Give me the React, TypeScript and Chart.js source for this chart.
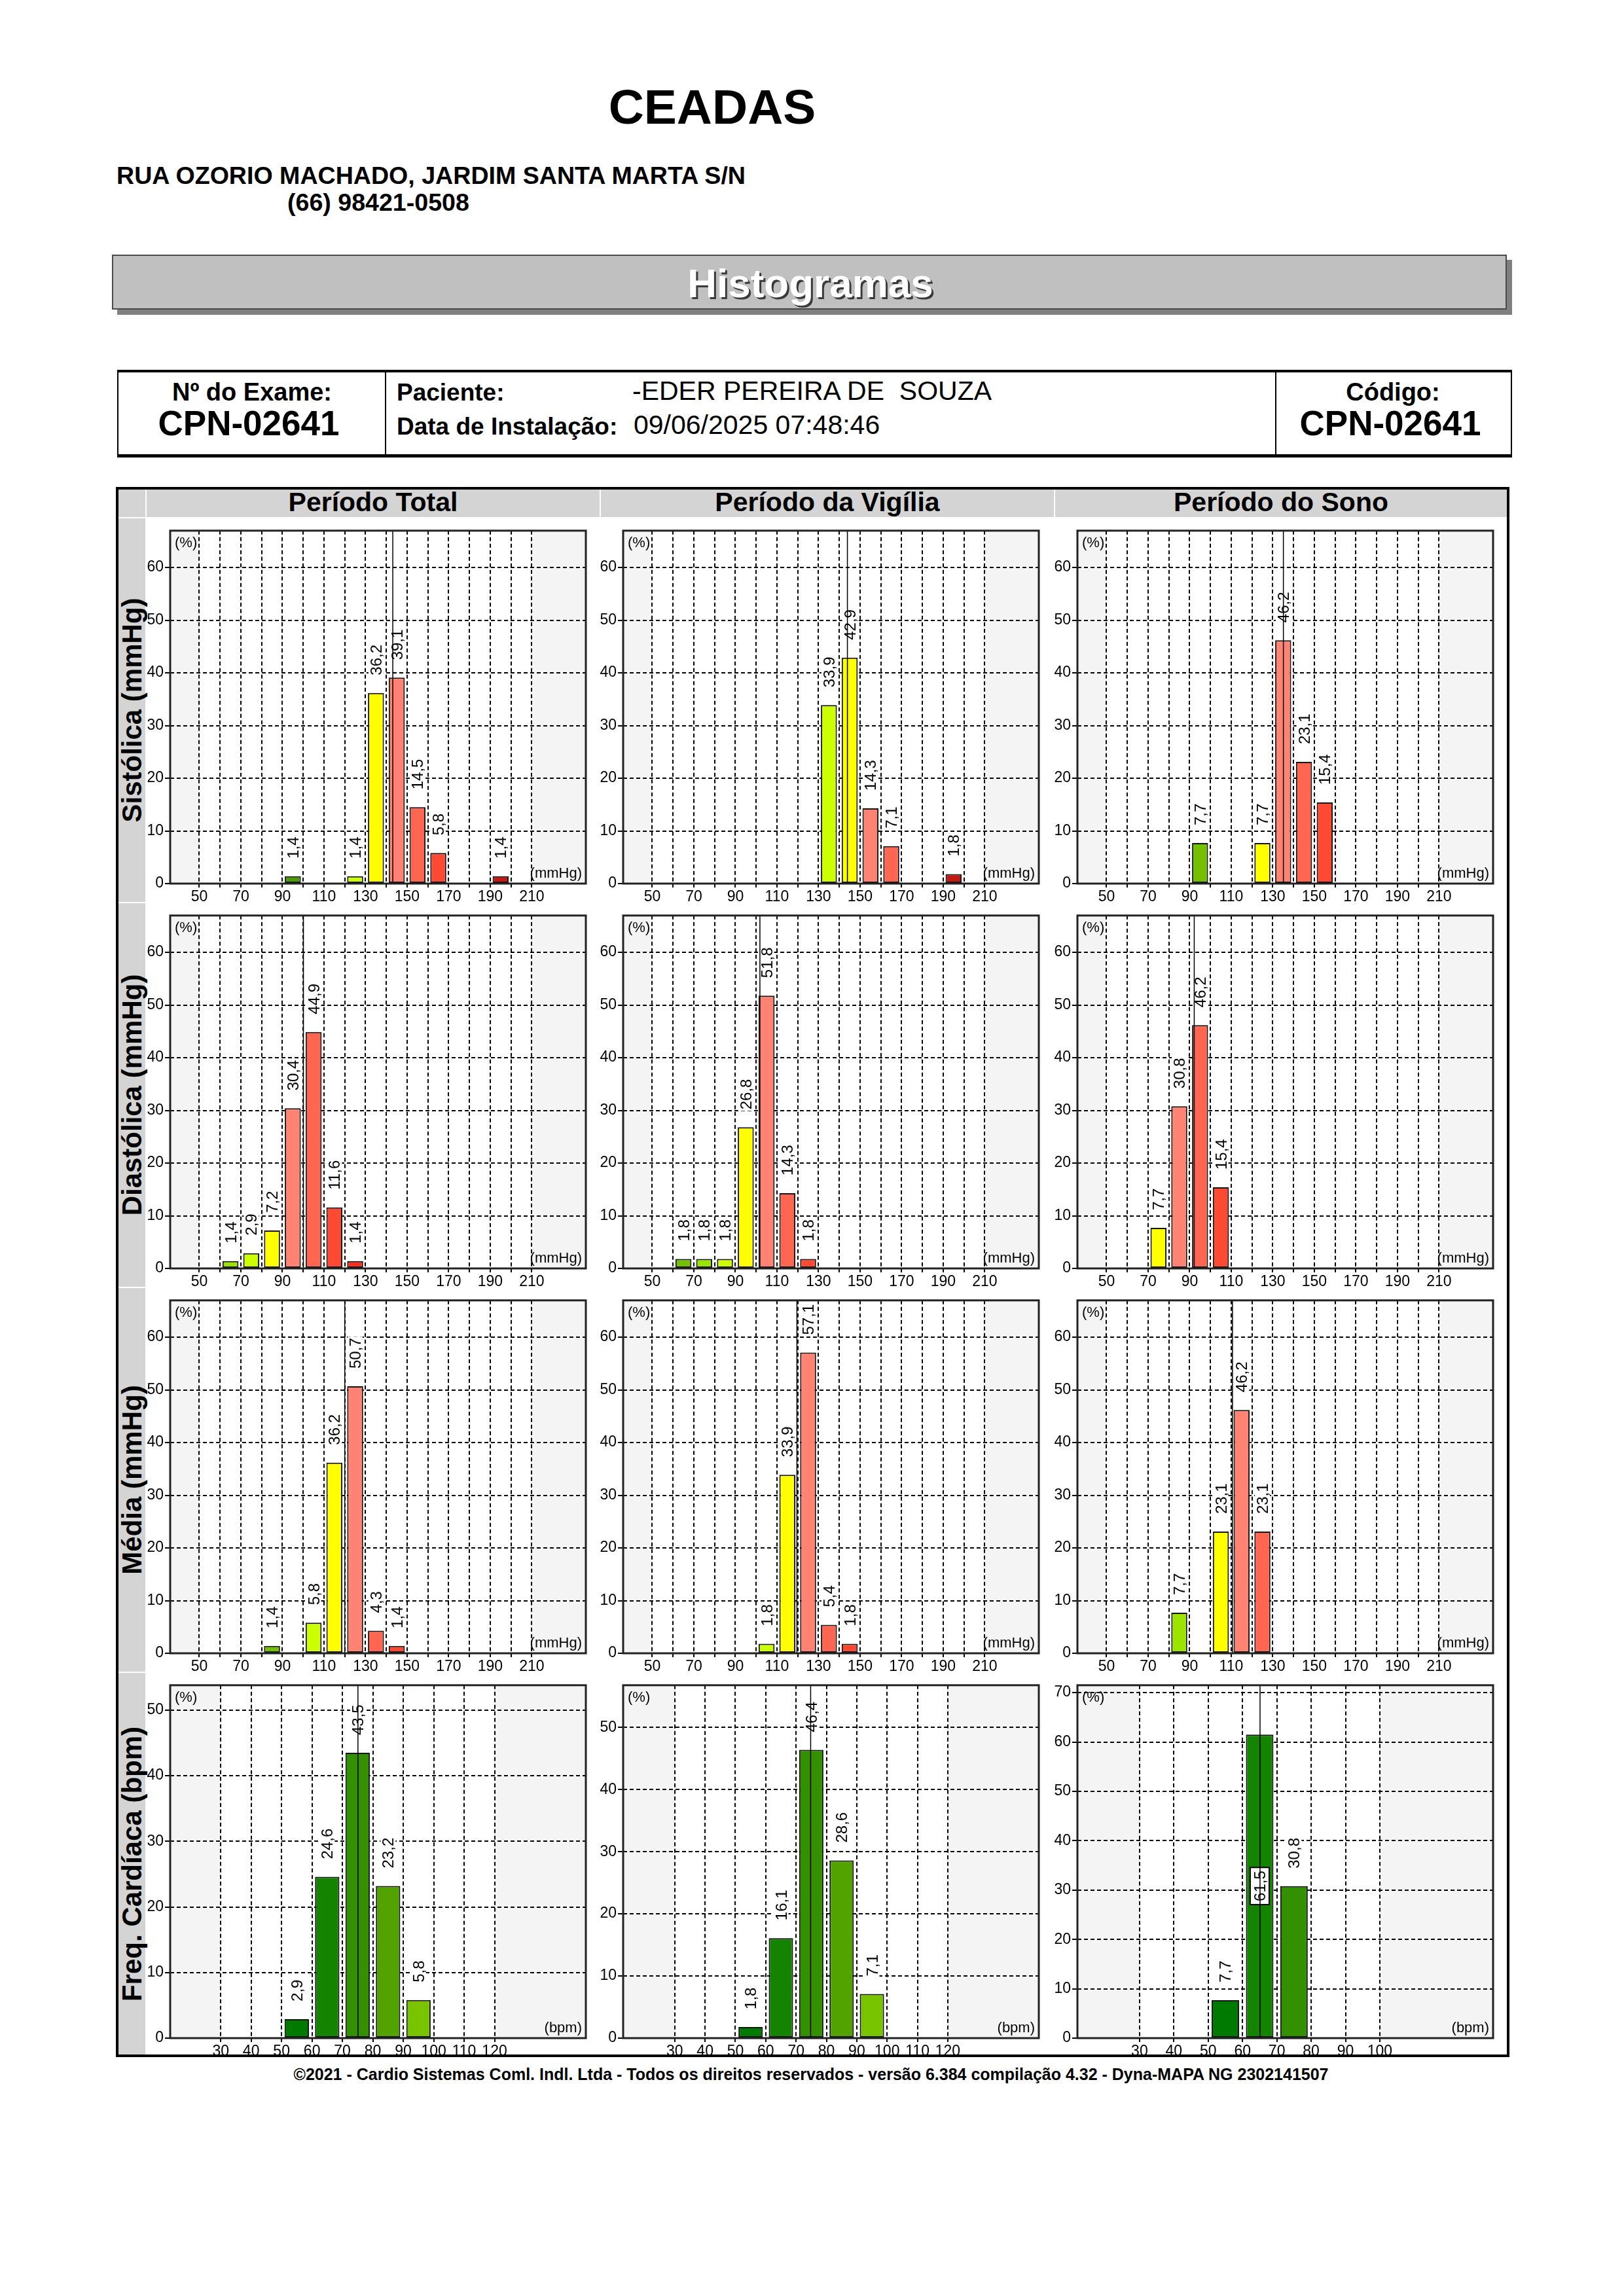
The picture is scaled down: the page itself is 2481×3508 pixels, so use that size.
import React, { useEffect, useRef } from 'react';
import { Chart, registerables } from 'chart.js';

Chart.register(...registerables);

const FONT = '"Liberation Sans", Arial, Helvetica, sans-serif';

// ---------------- DATA ----------------
const BP_BINS = [50, 60, 70, 80, 90, 100, 110, 120, 130, 140, 150, 160, 170, 180, 190, 200];
const BP_GRID = [50, 60, 70, 80, 90, 100, 110, 120, 130, 140, 150, 160, 170, 180, 190, 200, 210];
const BP_LABELS = [50, 70, 90, 110, 130, 150, 170, 190, 210];
const BP_Y_TICKS = [0, 10, 20, 30, 40, 50, 60];
const BP_X_RANGE = [36, 236];
const BP_NORMAL = [50, 210];
const BP_Y_MAX = 67;

const SIS_TOTAL = [0, 0, 0, 0, 1.4, 0, 0, 1.4, 36.2, 39.1, 14.5, 5.8, 0, 0, 1.4, 0];
const SIS_VIGILIA = [0, 0, 0, 0, 0, 0, 0, 0, 33.9, 42.9, 14.3, 7.1, 0, 0, 1.8, 0];
const SIS_SONO = [0, 0, 0, 0, 7.7, 0, 0, 7.7, 46.2, 23.1, 15.4, 0, 0, 0, 0, 0];
const DIA_TOTAL = [0, 1.4, 2.9, 7.2, 30.4, 44.9, 11.6, 1.4, 0, 0, 0, 0, 0, 0, 0, 0];
const DIA_VIGILIA = [0, 1.8, 1.8, 1.8, 26.8, 51.8, 14.3, 1.8, 0, 0, 0, 0, 0, 0, 0, 0];
const DIA_SONO = [0, 0, 7.7, 30.8, 46.2, 15.4, 0, 0, 0, 0, 0, 0, 0, 0, 0, 0];
const MED_TOTAL = [0, 0, 0, 1.4, 0, 5.8, 36.2, 50.7, 4.3, 1.4, 0, 0, 0, 0, 0, 0];
const MED_VIGILIA = [0, 0, 0, 0, 0, 1.8, 33.9, 57.1, 5.4, 1.8, 0, 0, 0, 0, 0, 0];
const MED_SONO = [0, 0, 0, 7.7, 0, 23.1, 46.2, 23.1, 0, 0, 0, 0, 0, 0, 0, 0];

const SIS_MEANS = [143.1, 143.9, 135.1];
const DIA_MEANS = [100.1, 101.8, 92.2];
const MED_MEANS = [120.0, 119.6, 110.6];

const HR_BINS = [50, 60, 70, 80, 90];
const HR_TOTAL = [2.9, 24.6, 43.5, 23.2, 5.8];
const HR_VIGILIA = [1.8, 16.1, 46.4, 28.6, 7.1];
const HR_SONO = [7.7, 61.5, 30.8, 0, 0];
const HR_MEANS = [75.1, 74.8, 65.1];
const HR_GRID_WIDE = [30, 40, 50, 60, 70, 80, 90, 100, 110, 120];
const HR_GRID_SONO = [30, 40, 50, 60, 70, 80, 90, 100];
const HR_Y_TICKS_50 = [0, 10, 20, 30, 40, 50];
const HR_Y_TICKS_70 = [0, 10, 20, 30, 40, 50, 60, 70];
const HR_X_RANGES = [[13.4, 150], [13, 150], [11.9, 133]];
const HR_Y_MAX = [53.8, 56.8, 71.5];

// ---------------- COLOURS ----------------
const DKGREEN = '#4c9c00';
const GREEN = '#74c000';
const LGREEN = '#9be400';
const LIME = '#ccff00';
const YELLOW = '#ffff00';
const SALMON = '#ff8272';
const CORAL = '#ff6652';
const RED1 = '#ff4a33';
const RED2 = '#ff2e1c';
const DKRED = '#c41810';
const _ = '';

const SIS_TOTAL_COLORS = [_, _, _, _, DKGREEN, _, _, LIME, YELLOW, SALMON, CORAL, RED1, _, _, DKRED, _];
const SIS_VIGILIA_COLORS = [_, _, _, _, _, _, _, _, LIME, YELLOW, SALMON, CORAL, _, _, DKRED, _];
const SIS_SONO_COLORS = [_, _, _, _, GREEN, _, _, YELLOW, SALMON, CORAL, RED1, _, _, _, _, _];
const DIA_TOTAL_COLORS = [_, LGREEN, LIME, YELLOW, SALMON, CORAL, RED1, RED2, _, _, _, _, _, _, _, _];
const DIA_VIGILIA_COLORS = [_, GREEN, LGREEN, LIME, YELLOW, SALMON, CORAL, RED1, _, _, _, _, _, _, _, _];
const DIA_SONO_COLORS = [_, _, YELLOW, SALMON, CORAL, RED1, _, _, _, _, _, _, _, _, _, _];
const MED_TOTAL_COLORS = [_, _, _, GREEN, _, LIME, YELLOW, SALMON, CORAL, RED1, _, _, _, _, _, _];
const MED_VIGILIA_COLORS = [_, _, _, _, _, LIME, YELLOW, SALMON, CORAL, RED1, _, _, _, _, _, _];
const MED_SONO_COLORS = [_, _, _, LGREEN, _, YELLOW, SALMON, CORAL, _, _, _, _, _, _, _, _];
const HR_COLORS = ['#007a00', '#148400', '#339000', '#52a200', '#78c400'];

// ---------------- LAYOUT ----------------
const COL_LEFT = [260, 952, 1646];
const ROW_TOP = [805, 1393, 1981, 2569];
const PLOT_W = 635;
const PLOT_H = 545;
const PAD_L = 60;
const PAD_T = 10;
const PAD_R = 10;
const PAD_B = 32;

type Spec = {
  bins: number[];
  values: number[];
  colors: string[];
  mean: number;
  xRange: number[];
  xGrid: number[];
  xLabels: number[];
  normal: number[];
  yMax: number;
  yTicks: number[];
  unit: string;
  barPct: number;
  row: number;
  col: number;
};

const bp = (values: number[], colors: string[], mean: number, row: number, col: number): Spec => ({
  bins: BP_BINS, values, colors, mean, xRange: BP_X_RANGE, xGrid: BP_GRID, xLabels: BP_LABELS,
  normal: BP_NORMAL, yMax: BP_Y_MAX, yTicks: BP_Y_TICKS, unit: '(mmHg)', barPct: 0.77, row, col,
});

const hr = (values: number[], col: number): Spec => {
  const grid = col === 2 ? HR_GRID_SONO : HR_GRID_WIDE;
  return {
    bins: HR_BINS, values, colors: HR_COLORS, mean: HR_MEANS[col], xRange: HR_X_RANGES[col],
    xGrid: grid, xLabels: grid, normal: [grid[0], grid[grid.length - 1]], yMax: HR_Y_MAX[col],
    yTicks: col === 2 ? HR_Y_TICKS_70 : HR_Y_TICKS_50, unit: '(bpm)', barPct: 0.8, row: 3, col,
  };
};

const SPECS: Spec[] = [
  bp(SIS_TOTAL, SIS_TOTAL_COLORS, SIS_MEANS[0], 0, 0),
  bp(SIS_VIGILIA, SIS_VIGILIA_COLORS, SIS_MEANS[1], 0, 1),
  bp(SIS_SONO, SIS_SONO_COLORS, SIS_MEANS[2], 0, 2),
  bp(DIA_TOTAL, DIA_TOTAL_COLORS, DIA_MEANS[0], 1, 0),
  bp(DIA_VIGILIA, DIA_VIGILIA_COLORS, DIA_MEANS[1], 1, 1),
  bp(DIA_SONO, DIA_SONO_COLORS, DIA_MEANS[2], 1, 2),
  bp(MED_TOTAL, MED_TOTAL_COLORS, MED_MEANS[0], 2, 0),
  bp(MED_VIGILIA, MED_VIGILIA_COLORS, MED_MEANS[1], 2, 1),
  bp(MED_SONO, MED_SONO_COLORS, MED_MEANS[2], 2, 2),
  hr(HR_TOTAL, 0),
  hr(HR_VIGILIA, 1),
  hr(HR_SONO, 2),
];

const fmt = (v: number) => v.toFixed(1).replace('.', ',');

const histPlugin = {
  id: 'hist',
  beforeDraw(chart: any, _a: any, o: any) {
    const { ctx, chartArea: a } = chart;
    const x = chart.scales.x;
    ctx.save();
    ctx.fillStyle = '#f4f4f4';
    ctx.fillRect(a.left, a.top, a.right - a.left, a.bottom - a.top);
    const s0 = x.getPixelForValue(o.normal[0]);
    const s1 = x.getPixelForValue(o.normal[1]);
    ctx.fillStyle = '#ffffff';
    ctx.fillRect(s0, a.top, s1 - s0, a.bottom - a.top);
    ctx.restore();
  },
  afterDatasetsDraw(chart: any) {
    const { ctx, chartArea: a } = chart;
    const meta = chart.getDatasetMeta(0);
    const data = chart.data.datasets[0].data;
    ctx.save();
    ctx.font = `24px ${FONT}`;
    const cap = 17;
    meta.data.forEach((bar: any, i: number) => {
      const v = data[i].y;
      if (!(v > 0)) return;
      const t = fmt(v);
      const w = ctx.measureText(t).width;
      const start = bar.y - 27;
      const inside = start - w < a.top + 5;
      ctx.save();
      if (inside) {
        const yc = (bar.y + bar.base) / 2;
        ctx.translate(bar.x, yc);
        ctx.rotate(-Math.PI / 2);
        ctx.fillStyle = '#ffffff';
        ctx.strokeStyle = '#000000';
        ctx.lineWidth = 2;
        ctx.fillRect(-w / 2 - 5, -cap / 2 - 6, w + 10, cap + 12);
        ctx.strokeRect(-w / 2 - 5, -cap / 2 - 6, w + 10, cap + 12);
        ctx.fillStyle = '#000000';
        ctx.textAlign = 'center';
        ctx.textBaseline = 'alphabetic';
        ctx.fillText(t, 0, cap / 2);
      } else {
        ctx.translate(bar.x, start);
        ctx.rotate(-Math.PI / 2);
        ctx.fillStyle = '#ffffff';
        ctx.fillRect(-2, -cap / 2 - 3, w + 4, cap + 6);
        ctx.fillStyle = '#000000';
        ctx.textAlign = 'left';
        ctx.textBaseline = 'alphabetic';
        ctx.fillText(t, 0, cap / 2);
      }
      ctx.restore();
    });
    ctx.restore();
  },
  afterDraw(chart: any, _a: any, o: any) {
    const { ctx, chartArea: a } = chart;
    const x = chart.scales.x;
    ctx.save();
    ctx.fillStyle = '#000';
    ctx.font = `22px ${FONT}`;
    ctx.textBaseline = 'alphabetic';
    ctx.textAlign = 'left';
    ctx.fillText('(%)', a.left + 7, a.top + 25);
    ctx.textAlign = 'right';
    ctx.fillText(o.unit, a.right - 6, a.bottom - 9);
    const mx = x.getPixelForValue(o.mean);
    ctx.strokeStyle = '#000';
    ctx.lineWidth = 1.5;
    ctx.beginPath();
    ctx.moveTo(mx, a.top);
    ctx.lineTo(mx, a.bottom);
    ctx.stroke();
    ctx.strokeStyle = '#222';
    ctx.lineWidth = 3;
    ctx.strokeRect(a.left, a.top, a.right - a.left, a.bottom - a.top);
    ctx.restore();
  },
};

function Histogram({ spec }: { spec: Spec }) {
  const ref = useRef<HTMLCanvasElement | null>(null);
  useEffect(() => {
    if (!ref.current) return;
    const s = spec;
    const tickFont = { family: FONT, size: 23 };
    const chart = new Chart(ref.current, {
      type: 'bar',
      data: {
        datasets: [
          {
            data: s.bins.map((b, i) => ({ x: b + 5, y: s.values[i] })),
            backgroundColor: s.colors.map((c) => c || 'rgba(0,0,0,0)'),
            borderColor: '#151515',
            borderWidth: s.values.map((v) => (v > 0 ? 2 : 0)),
            borderSkipped: false,
            barPercentage: s.barPct,
            categoryPercentage: 1,
          } as any,
        ],
      },
      options: {
        responsive: false,
        animation: false,
        devicePixelRatio: 1,
        events: [],
        layout: { padding: { left: 0, top: PAD_T, right: PAD_R, bottom: 0 } },
        plugins: {
          legend: { display: false },
          tooltip: { enabled: false },
          hist: { normal: s.normal, mean: s.mean, unit: s.unit },
        } as any,
        scales: {
          x: {
            type: 'linear',
            bounds: 'data',
            offset: false,
            min: s.xRange[0],
            max: s.xRange[1],
            afterBuildTicks: (ax: any) => {
              ax.ticks = s.xGrid.map((v) => ({ value: v }));
            },
            afterFit: (ax: any) => {
              ax.height = PAD_B;
            },
            grid: { offset: false, color: '#000', lineWidth: 2, drawTicks: true, tickLength: 6, tickColor: '#000' },
            border: { display: false, dash: [6, 4] },
            ticks: {
              autoSkip: false,
              maxRotation: 0,
              minRotation: 0,
              padding: 1,
              color: '#000',
              font: tickFont,
              callback: (v: any) => (s.xLabels.includes(Number(v)) ? String(v) : ''),
            },
          },
          y: {
            type: 'linear',
            bounds: 'data',
            min: 0,
            max: s.yMax,
            afterBuildTicks: (ax: any) => {
              ax.ticks = s.yTicks.map((v) => ({ value: v }));
            },
            afterFit: (ax: any) => {
              ax.width = PAD_L;
            },
            grid: { color: '#000', lineWidth: 2, drawTicks: true, tickLength: 8, tickColor: '#000' },
            border: { display: false, dash: [6, 4] },
            ticks: { autoSkip: false, padding: 2, color: '#000', font: tickFont, callback: (v: any) => String(v) },
          },
        } as any,
      },
      plugins: [histPlugin as any],
    } as any);
    return () => chart.destroy();
  }, [spec]);
  const left = COL_LEFT[spec.col] - PAD_L;
  const top = ROW_TOP[spec.row] - PAD_T;
  const w = PLOT_W + PAD_L + PAD_R;
  const h = PLOT_H + PAD_T + PAD_B;
  return (
    <canvas
      ref={ref}
      width={w}
      height={h}
      style={{ position: 'absolute', left, top, width: w, height: h }}
    />
  );
}

function Txt(props: {
  x: number;
  y: number;
  size: number;
  bold?: boolean;
  align?: 'left' | 'center';
  color?: string;
  shadow?: string;
  children: React.ReactNode;
}) {
  const { x, y, size, bold, align = 'left', color = '#000', shadow, children } = props;
  const base: React.CSSProperties = {
    position: 'absolute',
    top: y - 0.8465 * size,
    fontSize: size,
    lineHeight: `${size}px`,
    fontWeight: bold ? 700 : 400,
    whiteSpace: 'pre',
    color,
    fontFamily: FONT,
    textShadow: shadow,
  };
  if (align === 'center') {
    return <div style={{ ...base, left: x - 1200, width: 2400, textAlign: 'center' }}>{children}</div>;
  }
  return <div style={{ ...base, left: x }}>{children}</div>;
}

const box = (l: number, t: number, w: number, h: number, extra: React.CSSProperties = {}): React.CSSProperties => ({
  position: 'absolute',
  left: l,
  top: t,
  width: w,
  height: h,
  boxSizing: 'border-box',
  ...extra,
});

const COL_HEADERS = ['Período Total', 'Período da Vigília', 'Período do Sono'];
const ROW_LABELS = ['Sistólica (mmHg)', 'Diastólica (mmHg)', 'Média (mmHg)', 'Freq. Cardíaca (bpm)'];
const HEAD_CELLS = [
  [224, 692],
  [918, 692],
  [1612, 690],
];
const ROW_CELLS = [
  [792, 586],
  [1380, 586],
  [1968, 586],
  [2556, 583],
];
const GRAY = '#d4d4d4';

export default function App() {
  return (
    <div
      style={{
        position: 'absolute',
        left: 0,
        top: 0,
        width: 2481,
        height: 3508,
        background: '#fff',
        fontFamily: FONT,
        overflow: 'hidden',
      }}
    >
      <Txt x={1088} y={189} size={75} bold align="center">CEADAS</Txt>
      <Txt x={178} y={282} size={37.6} bold>RUA OZORIO MACHADO, JARDIM SANTA MARTA S/N</Txt>
      <Txt x={439} y={323} size={37.6} bold>(66) 98421-0508</Txt>

      <div style={box(171, 389, 2131, 84, { background: '#c0c0c0', border: '2px solid #4a4a4a', boxShadow: '8px 8px 0 #808080' })} />
      <Txt x={1238} y={454} size={62} bold align="center" color="#fff" shadow="3px 3px 0 #3a3a3a">Histogramas</Txt>

      <div style={box(179, 565, 2131, 134, { borderTop: '4px solid #000', borderBottom: '5px solid #000', borderLeft: '2px solid #000', borderRight: '2px solid #000' })} />
      <div style={box(588, 567, 2, 128, { background: '#000' })} />
      <div style={box(1948, 567, 2, 128, { background: '#000' })} />
      <Txt x={385} y={612} size={38} bold align="center">Nº do Exame:</Txt>
      <Txt x={380} y={665} size={53} bold align="center">CPN-02641</Txt>
      <Txt x={606} y={612} size={37} bold>Paciente:</Txt>
      <Txt x={966} y={612} size={41}>-EDER PEREIRA DE  SOUZA</Txt>
      <Txt x={606} y={664} size={37} bold>Data de Instalação:</Txt>
      <Txt x={968} y={664} size={41}>09/06/2025 07:48:46</Txt>
      <Txt x={2128} y={612} size={38} bold align="center">Código:</Txt>
      <Txt x={2124} y={665} size={53} bold align="center">CPN-02641</Txt>

      <div style={box(177, 744, 2129, 2399, { border: '4px solid #000' })} />
      <div style={box(181, 748, 41, 42, { background: GRAY })} />
      {HEAD_CELLS.map(([l, w], i) => (
        <React.Fragment key={'h' + i}>
          <div style={box(l, 748, w, 42, { background: GRAY })} />
          <Txt x={l + w / 2} y={782} size={41} bold align="center">{COL_HEADERS[i]}</Txt>
        </React.Fragment>
      ))}
      {ROW_CELLS.map(([t, h], i) => (
        <React.Fragment key={'r' + i}>
          <div style={box(181, t, 41, h, { background: GRAY })} />
          <div
            style={{
              position: 'absolute',
              left: 202,
              top: t + h / 2,
              transform: 'translate(-50%, -50%) rotate(-90deg)',
              fontSize: 42,
              lineHeight: '42px',
              fontWeight: 700,
              whiteSpace: 'nowrap',
              fontFamily: FONT,
            }}
          >
            {ROW_LABELS[i]}
          </div>
        </React.Fragment>
      ))}

      {SPECS.map((s, i) => (
        <Histogram key={i} spec={s} />
      ))}

      <Txt x={1239} y={3178} size={25} bold align="center">
        ©2021 - Cardio Sistemas Coml. Indl. Ltda - Todos os direitos reservados - versão 6.384 compilação 4.32 - Dyna-MAPA NG 2302141507
      </Txt>
    </div>
  );
}
